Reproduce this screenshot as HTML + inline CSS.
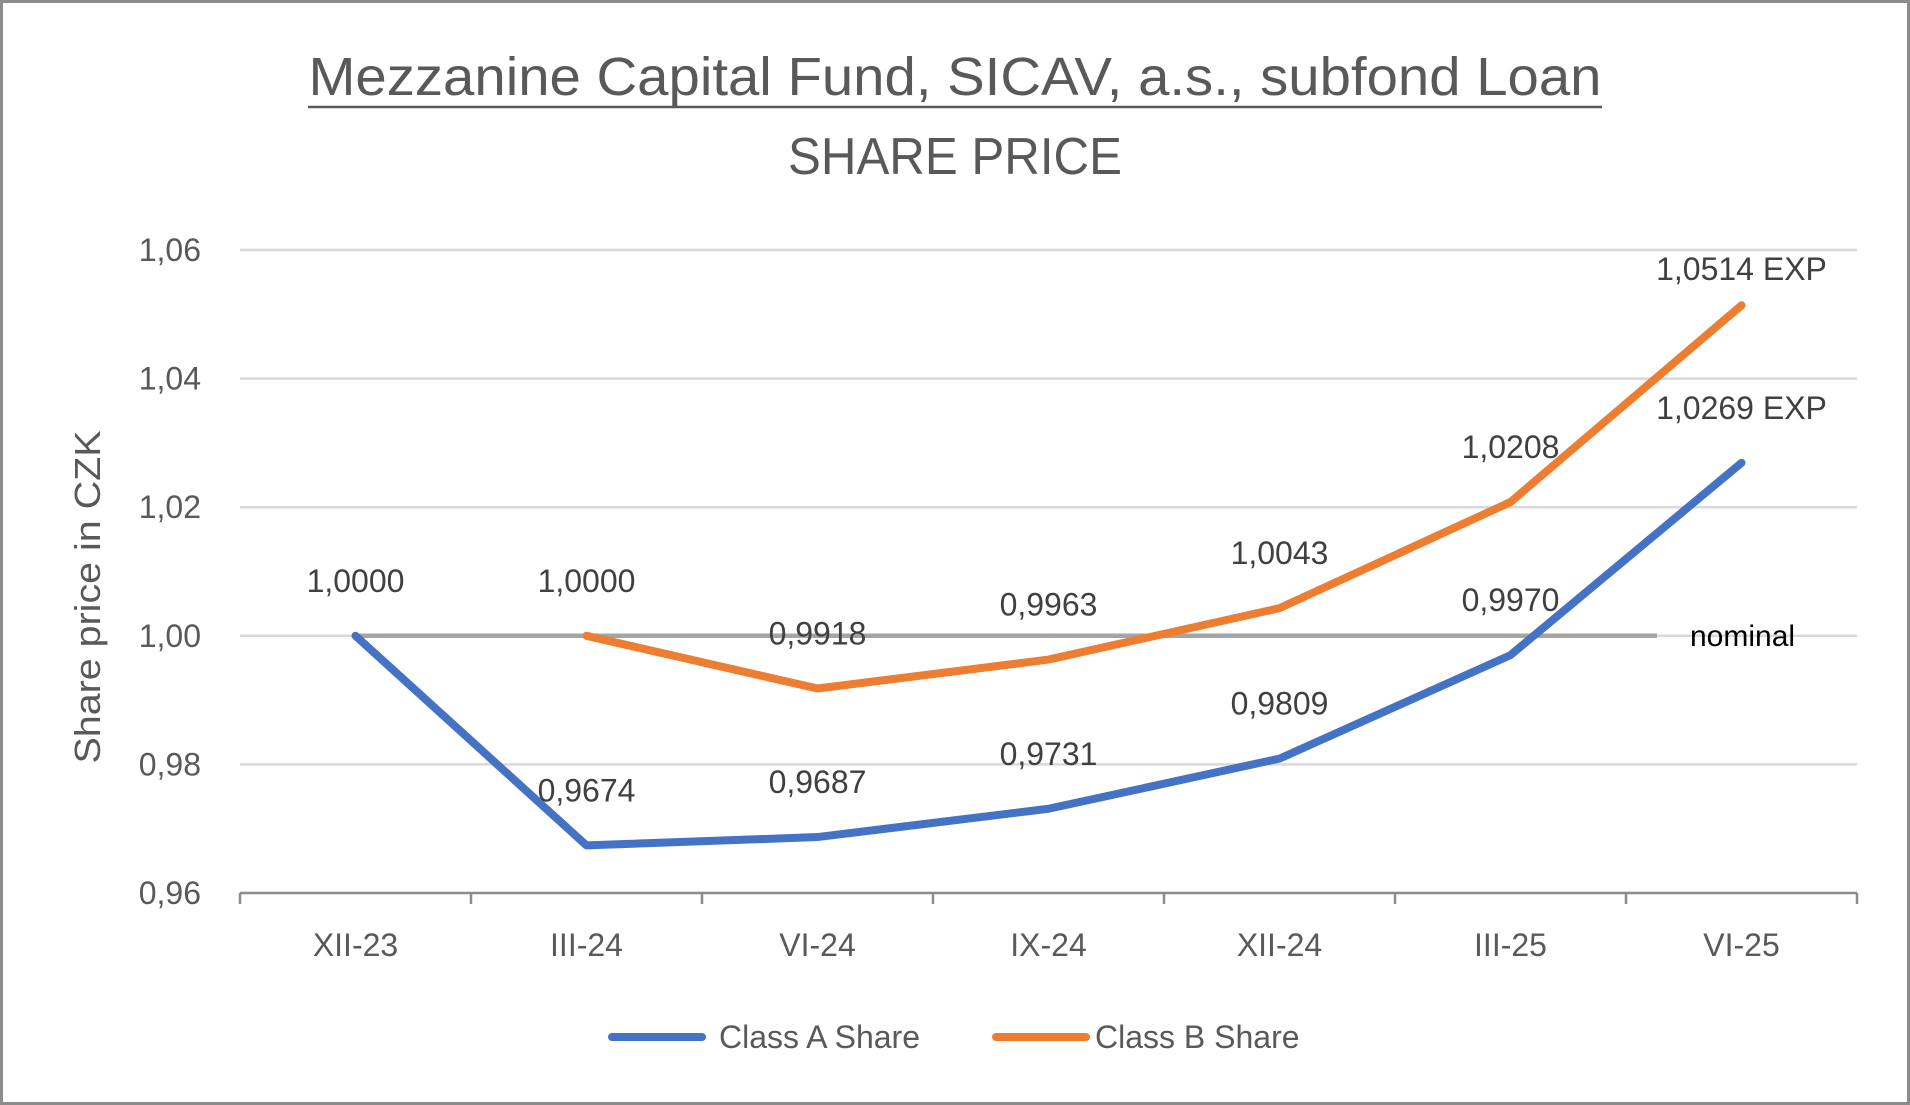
<!DOCTYPE html>
<html><head><meta charset="utf-8"><style>
html,body{margin:0;padding:0;background:#fff;}
svg{display:block;font-family:"Liberation Sans",sans-serif;}
</style></head><body>
<svg id="chart" width="1910" height="1105" viewBox="0 0 1910 1105">
<rect x="1.5" y="1.5" width="1907" height="1102" fill="#fff" stroke="#8c8c8c" stroke-width="3"/>
<text x="955" y="95" text-anchor="middle" font-size="54" fill="#595959" textLength="1293" lengthAdjust="spacingAndGlyphs">Mezzanine Capital Fund, SICAV, a.s., subfond Loan</text>
<line x1="308" y1="107" x2="1602" y2="107" stroke="#595959" stroke-width="2.5"/>
<text x="955" y="174" text-anchor="middle" font-size="52" fill="#595959" textLength="334" lengthAdjust="spacingAndGlyphs">SHARE PRICE</text>
<text transform="translate(100,597) rotate(-90)" text-anchor="middle" font-size="36" fill="#595959" textLength="333" lengthAdjust="spacingAndGlyphs">Share price in CZK</text>
<g id="grid"></g><g id="axes"></g><g id="series"></g><g id="labels"></g>
<g>
<line x1="612" y1="1037" x2="702" y2="1037" stroke="#4472c4" stroke-width="8" stroke-linecap="round"/>
<text x="719" y="1048" font-size="32" fill="#595959">Class A Share</text>
<line x1="996" y1="1037" x2="1086" y2="1037" stroke="#ed7d31" stroke-width="8" stroke-linecap="round"/>
<text x="1095" y="1048" font-size="32" fill="#595959">Class B Share</text>
</g>
</svg>
<script>
const categories = ["XII-23","III-24","VI-24","IX-24","XII-24","III-25","VI-25"];
const classA = [1.0000,0.9674,0.9687,0.9731,0.9809,0.9970,1.0269];
const classB = [null,1.0000,0.9918,0.9963,1.0043,1.0208,1.0514];
const labelsA = ["1,0000","0,9674","0,9687","0,9731","0,9809","0,9970","1,0269 EXP"];
const labelsB = ["","1,0000","0,9918","0,9963","1,0043","1,0208","1,0514 EXP"];
const yTicks = [0.96,0.98,1.00,1.02,1.04,1.06];
const yTickLabels = ["0,96","0,98","1,00","1,02","1,04","1,06"];
const nominal = 1.0;

const NS="http://www.w3.org/2000/svg";
const L=240,R=1857,T=250,B=893,ymin=0.96,ymax=1.06;
const bw=(R-L)/categories.length;
const x=i=>L+bw*(i+0.5);
const y=v=>B-(v-ymin)/(ymax-ymin)*(B-T);
function mk(tag,attrs,parent){const e=document.createElementNS(NS,tag);for(const k in attrs)e.setAttribute(k,attrs[k]);document.getElementById(parent).appendChild(e);return e;}

yTicks.forEach((t,i)=>{
  if(t!==ymin){const g=mk('line',{x1:L,x2:R,y1:y(t),y2:y(t),stroke:'#d9d9d9','stroke-width':2.5},'grid');
  
  }
  const tx=mk('text',{x:201,y:y(t)+11,'text-anchor':'end','font-size':32,fill:'#595959'},'axes');
  tx.textContent=yTickLabels[i];
  
  
});
const ax=mk('line',{x1:L,x2:R,y1:B,y2:B,stroke:'#8c8c8c','stroke-width':2.5},'axes');


for(let i=0;i<=categories.length;i++){
  const tk=mk('line',{x1:L+bw*i,x2:L+bw*i,y1:B,y2:B+11,stroke:'#8c8c8c','stroke-width':2.5},'axes');
  
  
}
categories.forEach((c,i)=>{
  const tx=mk('text',{x:x(i),y:956,'text-anchor':'middle','font-size':32,fill:'#595959'},'axes');
  tx.textContent=c;
  
  
});
// nominal
const nl=mk('line',{x1:x(0),x2:1657,y1:y(nominal),y2:y(nominal),stroke:'#a5a5a5','stroke-width':4.5},'series');


const nt=mk('text',{x:1690,y:y(nominal)+10,'font-size':30,fill:'#000'},'labels');
nt.textContent='nominal';



function series(vals,labs,color,name){
  const pts=[];vals.forEach((v,i)=>{if(v!=null)pts.push(x(i)+','+y(v));});
  const p=mk('polyline',{points:pts.join(' '),fill:'none',stroke:color,'stroke-width':8,'stroke-linejoin':'round','stroke-linecap':'round'},'series');
  
  
  vals.forEach((v,i)=>{
    if(v==null)return;
    const cy=Math.max(y(v)-55,269);
    const t=mk('text',{x:x(i),y:cy+11,'text-anchor':'middle','font-size':32,fill:'#404040'},'labels');
    t.textContent=labs[i];
    
    
  });
}
series(classA,labelsA,'#4472c4','class-a');
series(classB,labelsB,'#ed7d31','class-b');
</script>
</body></html>
